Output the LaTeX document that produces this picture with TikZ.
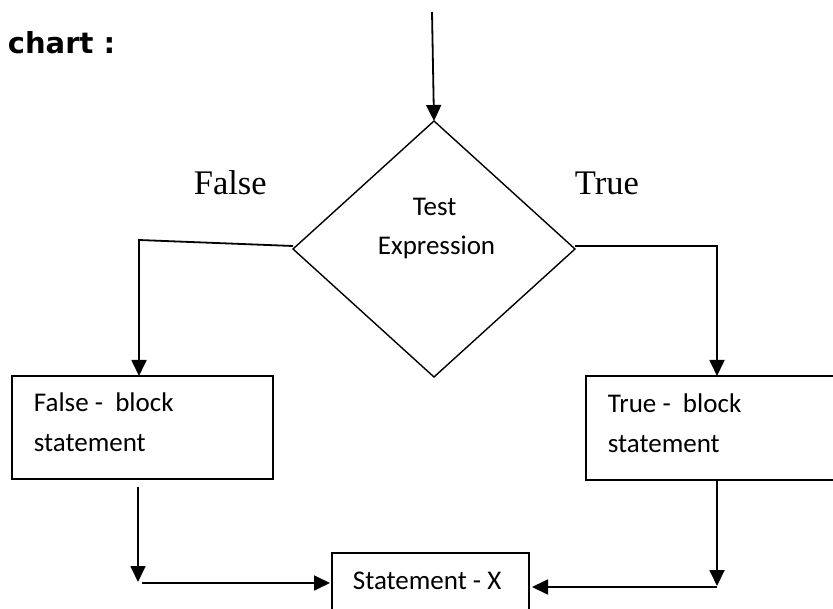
\documentclass[tikz,border=0pt]{standalone}
\usepackage{fontspec}
\usetikzlibrary{arrows.meta,shapes.geometric}
\newfontfamily\carl{Carlito}
\newfontfamily\tnr{Liberation Serif}
\newfontfamily\dvs{DejaVu Sans}
\begin{document}
\begin{tikzpicture}[x=1pt,y=-1pt,
  line width=1.8pt,
  arr/.style={-{Triangle[length=16pt,width=15pt]}},
  boxnode/.style={draw,rectangle,inner sep=0pt,outer sep=0pt},
  txt/.style={anchor=base west,inner sep=0pt,font=\carl\fontsize{27}{40}\selectfont},
  lbl/.style={anchor=base west,inner sep=0pt,font=\tnr\fontsize{34.5}{40}\selectfont}]
\useasboundingbox (0,0) rectangle (833,609);

% title
\node[anchor=base west,inner sep=0pt,font=\dvs\bfseries\fontsize{29}{34}\selectfont] (title) at (7,54) {chart :};

% decision
\node[draw,diamond,inner sep=0pt,outer sep=0pt,minimum width=282pt,minimum height=256pt,line width=1.4pt] (d) at (434,249) {};
\node[txt] (t1) at (412,216) {Test};
\node[txt] (t2) at (377,255) {Expression};

% branch labels
\node[lbl] (lf) at (193,195) {False};
\node[lbl] (lt) at (574,195) {True};

% blocks
\node[boxnode,minimum width=261pt,minimum height=103pt] (fb) at (142.5,427.5) {};
\node[txt] (fb1) at (33,412) {False -\ \ block};
\node[txt] (fb2) at (33,452) {statement};

\node[boxnode,minimum width=259pt,minimum height=104pt] (tb) at (715.5,428) {};
\node[txt] (tb1) at (607,413) {True -\ \ block};
\node[txt] (tb2) at (607,453) {statement};

\node[boxnode,minimum width=197pt,minimum height=72pt] (sx) at (430.5,589) {};
\node[txt] (sx1) at (352,589) {Statement - X};

% connector end points
\coordinate (in) at (432,12);
\coordinate (lc) at (139,240);
\coordinate (rc) at (717,246);
\coordinate (fa) at (138,487);
\coordinate (fz) at (138,582);
\coordinate (fh) at (142,583);
\coordinate (ta) at (717,586);
\coordinate (th) at (717,587);

% connectors
\draw[arr] (in) -- (d.north);
\draw[arr] ([yshift=3pt]d.west) -- (lc) -- (lc |- fb.north);
\draw[arr] ([yshift=3pt]d.east) -- (rc) -- (rc |- tb.north);
\draw[arr] (fa) -- (fz);
\draw[arr] (fh) -- ([xshift=-2pt]sx.west |- fh);
\draw[arr] (rc |- tb.south) -- (ta);
\draw[arr] (th) -- ([xshift=3pt]sx.east |- th);
\end{tikzpicture}
\end{document}
